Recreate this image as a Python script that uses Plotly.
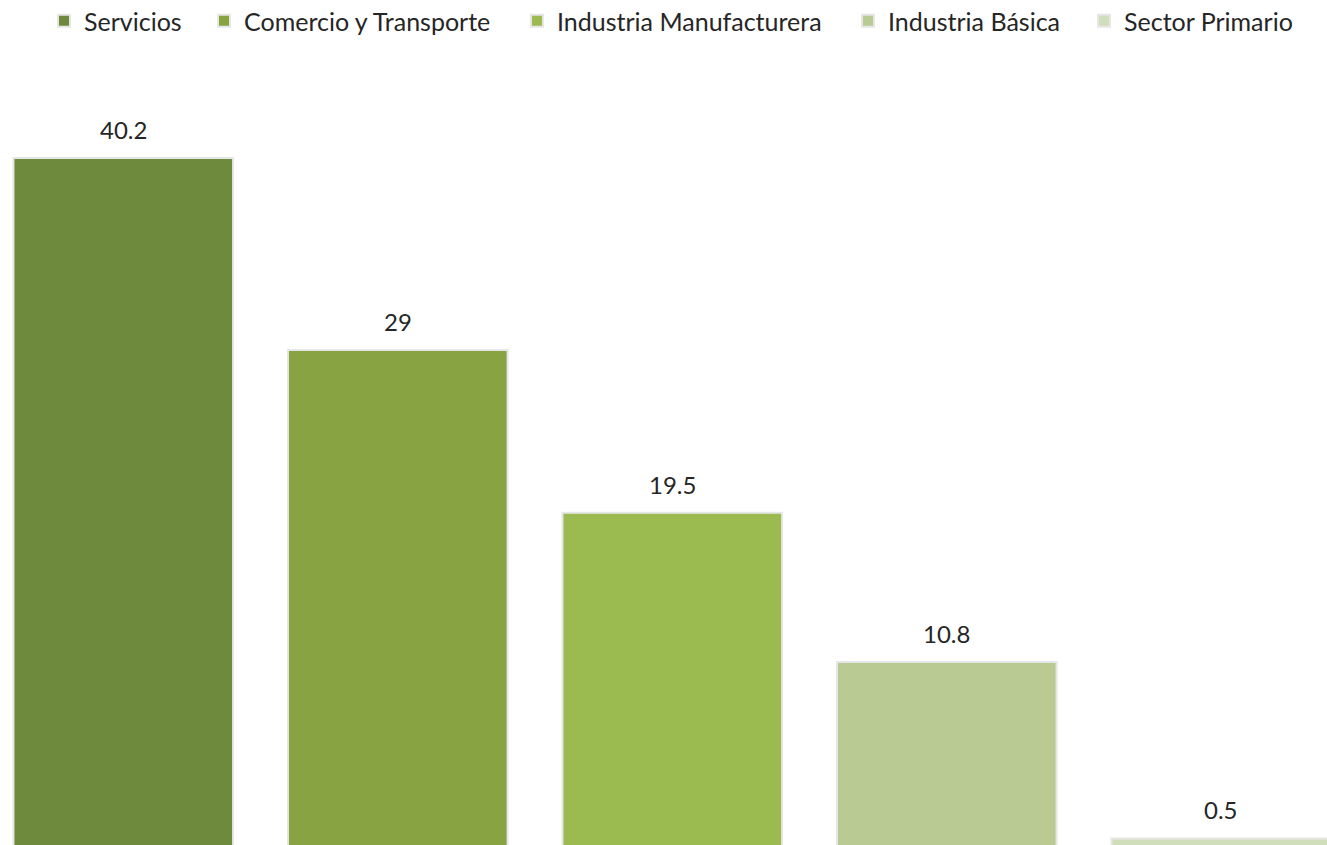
import plotly.graph_objects as go

# Share by sector (%)
sectors = ["Servicios", "Comercio y Transporte", "Industria Manufacturera",
           "Industria Básica", "Sector Primario"]
shares = [40.2, 29, 19.5, 10.8, 0.5]
share_labels = ["40.2", "29", "19.5", "10.8", "0.5"]
bar_colors = ["#6E8B3D", "#87A342", "#9BBB51", "#B9CB93", "#D1DEBB"]

FONT = "Lato"
TEXT_COLOR = "#262626"
W, H = 1327, 845

# left edge (px) of each legend entry along the top row
legend_x_px = [44, 204, 517, 848, 1084]
legend_ids = ["legend", "legend2", "legend3", "legend4", "legend5"]

fig = go.Figure()
for name, val, col, lid in zip(sectors, shares, bar_colors, legend_ids):
    fig.add_trace(go.Bar(
        x=[name], y=[val], name=name, width=0.8, legend=lid,
        marker=dict(color=col, line=dict(color="#E6E6E6", width=2)),
        hoverinfo="skip",
    ))

# value labels above each bar
for name, val, lab in zip(sectors, shares, share_labels):
    fig.add_annotation(x=name, y=val, text=lab, showarrow=False,
                       xanchor="center", yanchor="bottom", yshift=12,
                       font=dict(family=FONT, size=24, color=TEXT_COLOR))

legend_layouts = {
    lid: dict(orientation="h", x=px / W, xanchor="left", y=1.0 + 2 / H,
              yanchor="top",
              font=dict(family=FONT, size=25, color=TEXT_COLOR),
              bgcolor="rgba(0,0,0,0)")
    for lid, px in zip(legend_ids, legend_x_px)
}

fig.update_layout(
    width=W, height=H,
    margin=dict(l=0, r=0, t=0, b=0, autoexpand=False),
    paper_bgcolor="white", plot_bgcolor="white",
    barmode="overlay",
    showlegend=True,
    xaxis=dict(range=[-0.449, 4.385], showticklabels=False, showgrid=False,
               zeroline=False, showline=False, fixedrange=True),
    yaxis=dict(range=[0.117, 49.42], showticklabels=False, showgrid=False,
               zeroline=False, showline=False, fixedrange=True),
    **legend_layouts,
)

fig.write_html("out.html")
